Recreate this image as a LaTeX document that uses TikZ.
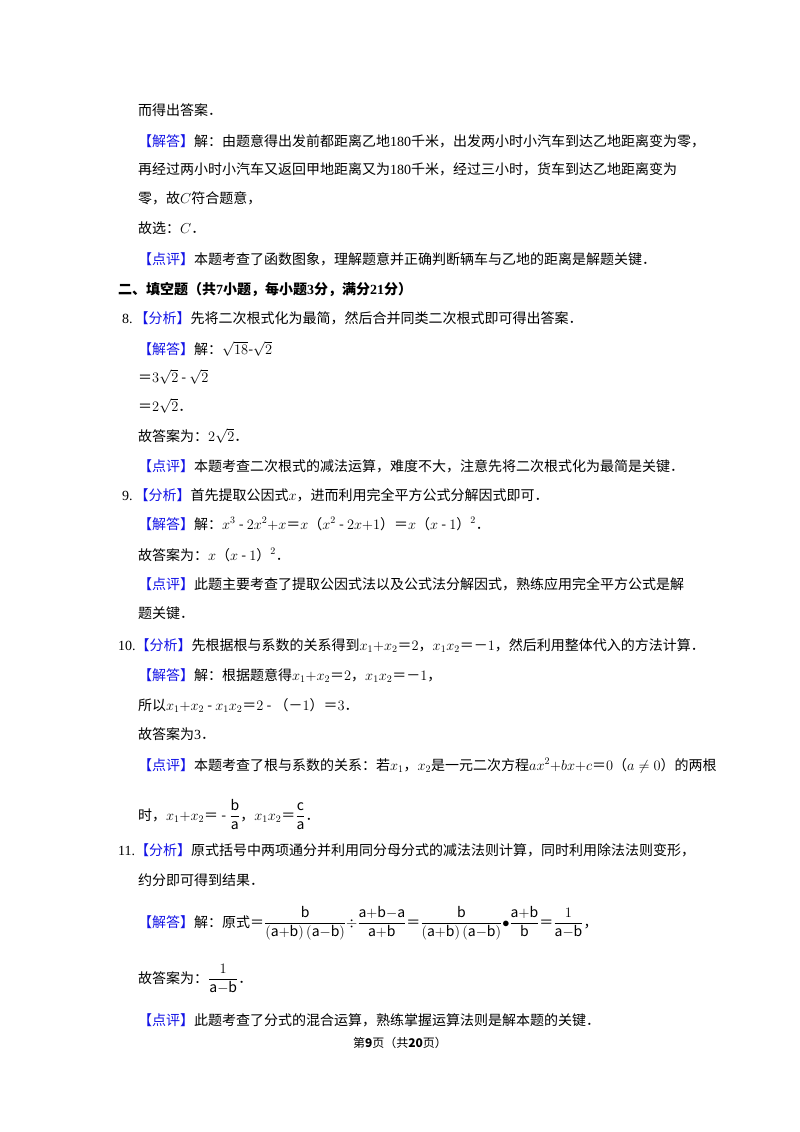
\documentclass[tikz,border=0pt]{standalone}
\usepackage{amsmath}
\usepackage{fontspec}
\setmainfont{Noto Sans CJK SC}
\newfontfamily\tm{Liberation Serif}
\definecolor{tagblue}{RGB}{20,20,230}
\newcommand{\tg}[1]{\textcolor{tagblue}{【#1】}}
\tikzset{ln/.style={anchor=base west,inner sep=0pt,font=\fontsize{14}{16}\selectfont}}
\begin{document}
\begin{tikzpicture}[x=1pt,y=-1pt]
\useasboundingbox[fill=white] (0,0) rectangle (800,1132);
\node[ln] (l1) at (138,115) {而得出答案．};
\node[ln] (l2) at (138,146) {\tg{解答}解：由题意得出发前都距离乙地{\tm 180}千米，出发两小时小汽车到达乙地距离变为零，};
\node[ln] (l3) at (138,174) {再经过两小时小汽车又返回甲地距离又为{\tm 180}千米，经过三小时，货车到达乙地距离变为};
\node[ln] (l4) at (138,203) {零，故$C$符合题意，};
\node[ln] (l5) at (138,233) {故选：$C$．};
\node[ln] (l6) at (138,264) {\tg{点评}本题考查了函数图象，理解题意并正确判断辆车与乙地的距离是解题关键．};
\node[ln] (l7) at (118,294) {\bfseries 二、填空题（共{\tm 7}小题，每小题{\tm 3}分，满分{\tm 21}分）};
\node[ln] (l8) at (122,323) {{\tm 8.}\hspace{2pt}\tg{分析}先将二次根式化为最简，然后合并同类二次根式即可得出答案．};
\node[ln] (l9) at (138,354) {\tg{解答}解：$\sqrt{18}$-$\sqrt{2}$};
\node[ln] (l10) at (138,382) {＝$3\sqrt{2}$ - $\sqrt{2}$};
\node[ln] (l11) at (138,411) {＝$2\sqrt{2}$．};
\node[ln] (l12) at (138,441) {故答案为：$2\sqrt{2}$．};
\node[ln] (l13) at (138,471) {\tg{点评}本题考查二次根式的减法运算，难度不大，注意先将二次根式化为最简是关键．};
\node[ln] (l14) at (122,500) {{\tm 9.}\hspace{2pt}\tg{分析}首先提取公因式$x$，进而利用完全平方公式分解因式即可．};
\node[ln] (l15) at (138,529) {\tg{解答}解：$x^3$ - $2x^2{+}x$＝$x$（$x^2$ - $2x{+}1$）＝$x$（$x$ - $1$）$^2$．};
\node[ln] (l16) at (138,560) {故答案为：$x$（$x$ - $1$）$^2$．};
\node[ln] (l17) at (138,589) {\tg{点评}此题主要考查了提取公因式法以及公式法分解因式，熟练应用完全平方公式是解};
\node[ln] (l18) at (138,618) {题关键．};
\node[ln] (l19) at (118,650) {{\tm 10.}\tg{分析}先根据根与系数的关系得到$x_1{+}x_2$＝$2$，$x_1x_2$＝－$1$，然后利用整体代入的方法计算．};
\node[ln] (l20) at (138,680) {\tg{解答}解：根据题意得$x_1{+}x_2$＝$2$，$x_1x_2$＝－$1$，};
\node[ln] (l21) at (138,710) {所以$x_1{+}x_2$ - $x_1x_2$＝$2$ - （－$1$）＝$3$．};
\node[ln] (l22) at (138,739) {故答案为{\tm 3}．};
\node[ln] (l23) at (138,770) {\tg{点评}本题考查了根与系数的关系：若$x_1$，$x_2$是一元二次方程$ax^2{+}bx{+}c$＝$0$（$a\neq0$）的两根};
\node[ln] (l24) at (138,820) {时，$x_1{+}x_2$＝ - $\dfrac{\mathrm b}{\mathrm a}$，$x_1x_2$＝$\dfrac{\mathrm c}{\mathrm a}$．};
\node[ln] (l25) at (118,855) {{\tm 11.}\tg{分析}原式括号中两项通分并利用同分母分式的减法法则计算，同时利用除法法则变形，};
\node[ln] (l26) at (138,885) {约分即可得到结果．};
\node[ln] (l27) at (138,927) {\tg{解答}解：原式＝$\dfrac{\mathrm b}{(\mathrm{a{+}b})\,(\mathrm{a{-}b})}{\div}\dfrac{\mathrm{a{+}b{-}a}}{\mathrm{a{+}b}}$＝$\dfrac{\mathrm b}{(\mathrm{a{+}b})\,(\mathrm{a{-}b})}{\bullet}\dfrac{\mathrm{a{+}b}}{\mathrm b}$＝$\dfrac{1}{\mathrm{a{-}b}}$，};
\node[ln] (l28) at (138,983) {故答案为：$\dfrac{1}{\mathrm{a{-}b}}$．};
\node[ln] (l29) at (138,1025) {\tg{点评}此题考查了分式的混合运算，熟练掌握运算法则是解本题的关键．};
\node[anchor=base,inner sep=0pt,font=\fontsize{12}{14}\selectfont] (ft) at (400,1047) {第\textbf{9}页（共\textbf{20}页）};
\end{tikzpicture}
\end{document}
